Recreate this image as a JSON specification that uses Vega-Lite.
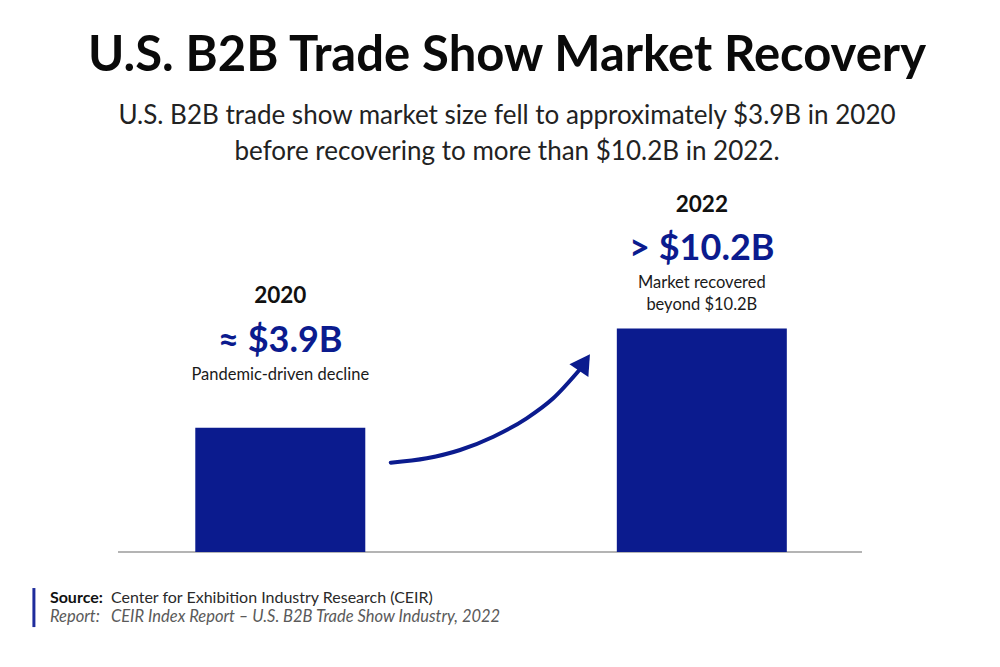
{
  "$schema": "https://vega.github.io/schema/vega-lite/v6.json",
  "width": 744,
  "height": 362,
  "autosize": {"type": "none"},
  "padding": {"left": 118, "right": 138, "top": 190, "bottom": 115},
  "background": "white",
  "config": {"view": {"stroke": null}, "font": "Lato", "text": {"font": "Lato"}},
  "title": {
    "text": "U.S. B2B Trade Show Market Recovery",
    "subtitle": ["U.S. B2B trade show market size fell to approximately $3.9B in 2020", "before recovering to more than $10.2B in 2022."],
    "anchor": "middle",
    "font": "Lato",
    "fontSize": 49,
    "fontWeight": "bold",
    "color": "#0a0a0a",
    "subtitleFont": "Lato",
    "subtitleFontSize": 26,
    "subtitleColor": "#222222",
    "subtitleLineHeight": 36,
    "subtitlePadding": 22,
    "offset": 25,
    "dx": 17
  },
  "datasets": {
    "bars": [
      {"year": 2020, "value": 3.9, "yearLabel": "2020", "valueLabel": "≈ $3.9B", "note": ["Pandemic-driven decline"]},
      {"year": 2022, "value": 10.2, "yearLabel": "2022", "valueLabel": "> $10.2B", "note": ["Market recovered", "beyond $10.2B"]}
    ],
    "arrow": [
      {"x": 2020.524, "y": 1.674},
      {"x": 2020.695, "y": 1.953},
      {"x": 2020.853, "y": 2.48},
      {"x": 2021.011, "y": 3.326},
      {"x": 2021.169, "y": 4.495},
      {"x": 2021.295, "y": 5.766},
      {"x": 2021.417, "y": 7.53}
    ],
    "footer": [
      {"line": 1, "label": "Source:", "text": "Center for Exhibition Industry Research (CEIR)"},
      {"line": 2, "label": "Report:", "text": "CEIR Index Report – U.S. B2B Trade Show Industry, 2022"}
    ]
  },
  "data": {"name": "bars"},
  "layer": [
    {
      "data": {"values": [{}]},
      "mark": {"type": "rule", "color": "#9b9b9b", "strokeWidth": 1.5},
      "encoding": {
        "y": {"datum": -4, "type": "quantitative", "scale": {"domain": [-4, 19], "zero": false, "nice": false}, "axis": null}
      }
    },
    {
      "mark": {"type": "bar", "width": 170, "color": "#0b1b8e"},
      "encoding": {
        "x": {"field": "year", "type": "quantitative", "scale": {"domain": [2019.23, 2022.76], "zero": false, "nice": false, "padding": 0}, "axis": null},
        "y": {"field": "value", "type": "quantitative", "scale": {"domain": [-4, 19], "zero": false, "nice": false}, "axis": null},
        "y2": {"datum": -4}
      }
    },
    {
      "data": {"name": "arrow"},
      "mark": {"type": "line", "interpolate": "monotone", "strokeWidth": 4, "strokeCap": "round", "color": "#0b1b8e"},
      "encoding": {
        "x": {"field": "x", "type": "quantitative"},
        "y": {"field": "y", "type": "quantitative"},
        "order": {"field": "x"}
      }
    },
    {
      "data": {"values": [{}]},
      "mark": {"type": "point", "shape": "triangle-up", "size": 520, "angle": 34, "filled": true, "opacity": 1, "color": "#0b1b8e"},
      "encoding": {
        "x": {"datum": 2021.443, "type": "quantitative"},
        "y": {"datum": 8.05, "type": "quantitative"}
      }
    },
    {
      "transform": [{"filter": "datum.year == 2020"}],
      "encoding": {
        "x": {"field": "year", "type": "quantitative"},
        "y": {"field": "value", "type": "quantitative"}
      },
      "layer": [
        {"mark": {"type": "text", "fontWeight": "bold", "fontSize": 22.5, "color": "#111111", "align": "center", "baseline": "alphabetic", "dy": -125}, "encoding": {"text": {"field": "yearLabel"}}},
        {"mark": {"type": "text", "fontWeight": "bold", "fontSize": 36, "color": "#0b1b8e", "align": "center", "baseline": "alphabetic", "dy": -76}, "encoding": {"text": {"field": "valueLabel"}}},
        {"mark": {"type": "text", "fontSize": 16.5, "color": "#1a1a1a", "align": "center", "baseline": "alphabetic", "dy": -48, "lineHeight": 22}, "encoding": {"text": {"field": "note"}}}
      ]
    },
    {
      "transform": [{"filter": "datum.year == 2022"}],
      "encoding": {
        "x": {"field": "year", "type": "quantitative"},
        "y": {"field": "value", "type": "quantitative"}
      },
      "layer": [
        {"mark": {"type": "text", "fontWeight": "bold", "fontSize": 22.5, "color": "#111111", "align": "center", "baseline": "alphabetic", "dy": -117}, "encoding": {"text": {"field": "yearLabel"}}},
        {"mark": {"type": "text", "fontWeight": "bold", "fontSize": 36, "color": "#0b1b8e", "align": "center", "baseline": "alphabetic", "dy": -69}, "encoding": {"text": {"field": "valueLabel"}}},
        {"mark": {"type": "text", "fontSize": 16.5, "color": "#1a1a1a", "align": "center", "baseline": "alphabetic", "dy": -41, "lineHeight": 22}, "encoding": {"text": {"field": "note"}}}
      ]
    },
    {
      "data": {"values": [{}]},
      "mark": {"type": "rule", "color": "#1f2c9c", "strokeWidth": 3},
      "encoding": {
        "x": {"datum": 2018.831, "type": "quantitative"},
        "y": {"datum": -6.29, "type": "quantitative"},
        "y2": {"datum": -8.77}
      }
    },
    {
      "data": {"name": "footer"},
      "transform": [{"filter": "datum.line == 1"}],
      "encoding": {
        "x": {"datum": 2018.907, "type": "quantitative"},
        "y": {"datum": -7.21, "type": "quantitative"}
      },
      "layer": [
        {"mark": {"type": "text", "align": "left", "baseline": "alphabetic", "fontWeight": "bold", "fontSize": 16, "color": "#111111"}, "encoding": {"text": {"field": "label"}}},
        {"mark": {"type": "text", "align": "left", "baseline": "alphabetic", "fontSize": 16, "color": "#2a2a2a", "dx": 61}, "encoding": {"text": {"field": "text"}}}
      ]
    },
    {
      "data": {"name": "footer"},
      "transform": [{"filter": "datum.line == 2"}],
      "encoding": {
        "x": {"datum": 2018.907, "type": "quantitative"},
        "y": {"datum": -8.45, "type": "quantitative"}
      },
      "layer": [
        {"mark": {"type": "text", "align": "left", "baseline": "alphabetic", "fontStyle": "italic", "fontSize": 16.5, "color": "#5a5a5a"}, "encoding": {"text": {"field": "label"}}},
        {"mark": {"type": "text", "align": "left", "baseline": "alphabetic", "fontStyle": "italic", "fontSize": 16.5, "color": "#5a5a5a", "dx": 61}, "encoding": {"text": {"field": "text"}}}
      ]
    }
  ]
}
